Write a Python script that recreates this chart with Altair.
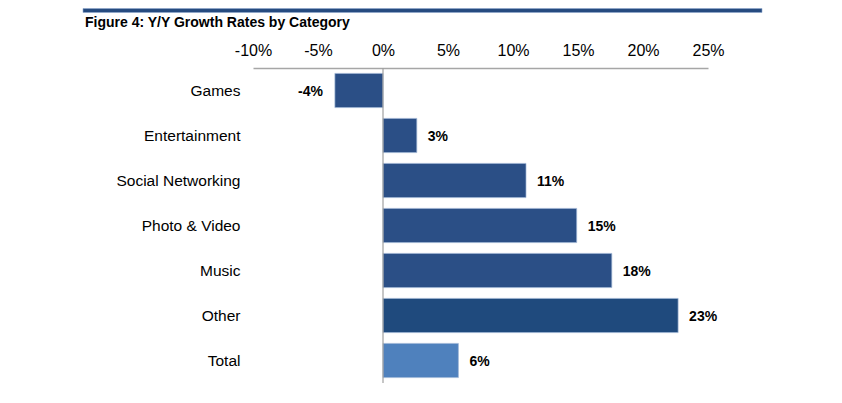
import altair as alt
import pandas as pd

categories = ["Games", "Entertainment", "Social Networking", "Photo & Video", "Music", "Other", "Total"]
growth = [-3.7, 2.6, 11.0, 14.9, 17.6, 22.7, 5.8]
tick_values = [-10, -5, 0, 5, 10, 15, 20, 25]
bar_colors = ["#2B4F86", "#2B4F86", "#2B4F86", "#2B4F86", "#2B4F86", "#1F4A7D", "#4F81BD"]
title_text = "Figure 4: Y/Y Growth Rates by Category"

df = pd.DataFrame({"category": categories, "growth": growth})
df["label"] = [f"{round(v):d}%" for v in growth]

W, H = 455, 315
FONT = "Liberation Sans"

x_scale = alt.Scale(domain=[-10, 25], nice=False, zero=False)
y_enc = alt.Y("category:N", sort=categories,
              scale=alt.Scale(paddingInner=0.24, paddingOuter=0.12),
              axis=alt.Axis(title=None, domain=False, ticks=False, labelPadding=13,
                            labelFontSize=15.5, labelFont=FONT, labelColor="#000000"))

base = alt.Chart(df)

bars = base.mark_bar(stroke="#9FB6D6", strokeWidth=0.7).encode(
    x=alt.X("growth:Q", scale=x_scale,
            axis=alt.Axis(orient="top", title=None, values=tick_values, grid=False,
                          ticks=False, labelPadding=10, labelFontSize=16, labelFont=FONT,
                          labelColor="#000000", domainColor="#A6A6A6", domainWidth=1.5,
                          labelFlush=False, labelOverlap=False,
                          labelExpr="datum.value + '%'")),
    x2=alt.datum(0),
    y=y_enc,
    color=alt.Color("category:N", scale=alt.Scale(domain=categories, range=bar_colors), legend=None),
)

pos_labels = base.transform_filter("datum.growth >= 0").mark_text(
    align="left", baseline="middle", dx=11, dy=1, fontWeight="bold", fontSize=14, font=FONT, color="#000000"
).encode(x=alt.X("growth:Q", scale=x_scale), y=alt.Y("category:N", sort=categories), text="label:N")

neg_labels = base.transform_filter("datum.growth < 0").mark_text(
    align="right", baseline="middle", dx=-12, dy=1, fontWeight="bold", fontSize=14, font=FONT, color="#000000"
).encode(x=alt.X("growth:Q", scale=x_scale), y=alt.Y("category:N", sort=categories), text="label:N")

zero_line = alt.Chart(pd.DataFrame({"z": [0]})).mark_rule(color="#A0A0A0", strokeWidth=1.2).encode(
    x=alt.X("z:Q", scale=x_scale), y=alt.value(0), y2=alt.value(H)
)

top_rule = alt.Chart(pd.DataFrame({"a": [0]})).mark_rect(color="#264B80", stroke="#8FA8CC", strokeWidth=0.6).encode(
    x=alt.value(-170), x2=alt.value(509), y=alt.value(-59.5), y2=alt.value(-55.5)
)

title = alt.Chart(pd.DataFrame({"t": [title_text]})).mark_text(
    align="left", baseline="alphabetic", fontWeight="bold", fontSize=14, font=FONT, color="#000000"
).encode(x=alt.value(-168), y=alt.value(-41.5), text="t:N")

chart = alt.layer(bars, zero_line, pos_labels, neg_labels, top_rule, title).properties(
    width=W, height=H,
    autosize=alt.AutoSizeParams(type="none"),
    padding={"left": 245, "top": 60, "right": 120, "bottom": 10},
).configure(background="#ffffff").configure_view(stroke=None)

chart.save("out.html", embed_options={"renderer": "svg", "actions": False})
